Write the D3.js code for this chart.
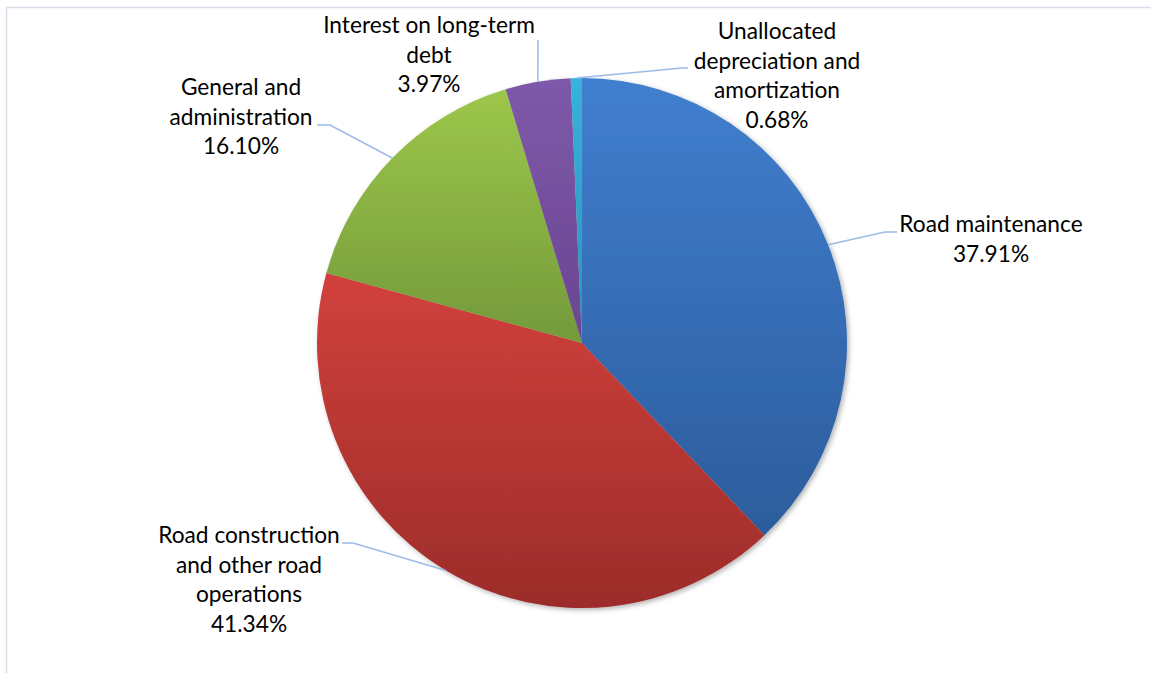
<!DOCTYPE html>
<html>
<head>
<meta charset="utf-8">
<script src="https://d3js.org/d3.v7.min.js"></script>
<style>
    body { margin: 0; background: #fff; }
    .label text {
        font: 22.7px Lato, sans-serif;
        fill: #000;
    }
    .leaders path {
        fill: none;
        stroke: #9dbbe6;
        stroke-width: 1.5px;
    }
</style>
</head>
<body>
<svg class="target" width="1151" height="673"></svg>
<script>

    // data
    let categories = ["Road maintenance", "Road construction and other road operations",
        "General and administration", "Interest on long-term debt",
        "Unallocated depreciation and amortization"];
    let shares = [37.91, 41.34, 16.10, 3.97, 0.68];
    let labelLines = [
        ["Road maintenance"],
        ["Road construction", "and other road", "operations"],
        ["General and", "administration"],
        ["Interest on long-term", "debt"],
        ["Unallocated", "depreciation and", "amortization"]
    ];
    let topColors = ["#417fcf", "#d2413c", "#9dc74b", "#7e59a9", "#37b2dc"];
    let bottomColors = ["#2c5c9c", "#9c2c2a", "#74993a", "#6a4591", "#2a93bb"];

    // layout of labels: text centre, first baseline, leader elbow and end
    let labelLayout = [
        {x: 991, y: 232, elbow: [885, 232], end: [897, 232]},
        {x: 249, y: 543, elbow: [353, 543], end: [342, 543]},
        {x: 241, y: 95, elbow: [330, 125], end: [317, 125]},
        {x: 429, y: 33, elbow: [538, 40], end: [538, 40]},
        {x: 777, y: 39, elbow: [682, 68], end: [688, 68]}
    ];

    let svg = d3.select(".target"),
        width = +svg.attr("width"),
        height = +svg.attr("height");

    let cx = 582, cy = 343, radius = 265, lineH = 29.6;

    // chart frame
    svg.append("path")
        .attr("d", "M6.5," + height + "V7.5H" + width)
        .attr("fill", "none")
        .attr("stroke", "#d9dfea")
        .attr("stroke-width", 1.5);

    let defs = svg.append("defs");

    let shadow = defs.append("filter")
        .attr("id", "shadow")
        .attr("x", "-10%").attr("y", "-10%")
        .attr("width", "120%").attr("height", "120%");
    shadow.append("feDropShadow")
        .attr("dx", 2).attr("dy", 2)
        .attr("stdDeviation", 2.5)
        .attr("flood-color", "#000")
        .attr("flood-opacity", 0.3);

    categories.forEach((c, i) => {
        let grad = defs.append("linearGradient")
            .attr("id", "grad" + i)
            .attr("x1", 0).attr("y1", 0)
            .attr("x2", 0).attr("y2", 1);
        grad.append("stop").attr("offset", "0%").attr("stop-color", topColors[i]);
        grad.append("stop").attr("offset", "100%").attr("stop-color", bottomColors[i]);
    });

    let pie = d3.pie()
        .sort(null)
        .value(d => d);

    let arc = d3.arc()
        .innerRadius(0)
        .outerRadius(radius);

    let arcs = pie(shares);

    let g = svg.append("g")
        .attr("transform", "translate(" + cx + "," + cy + ")");

    g.append("g")
        .attr("filter", "url(#shadow)")
        .selectAll("path")
        .data(arcs)
        .enter().append("path")
        .attr("d", arc)
        .attr("fill", (d, i) => "url(#grad" + i + ")");

    // leader lines
    svg.append("g")
        .attr("class", "leaders")
        .selectAll("path")
        .data(arcs)
        .enter().append("path")
        .attr("d", (d, i) => {
            let a = (d.startAngle + d.endAngle) / 2;
            let sx = cx + radius * Math.sin(a),
                sy = cy - radius * Math.cos(a);
            let L = labelLayout[i];
            return d3.line()([[sx, sy], L.elbow, L.end]);
        });

    // labels
    let label = svg.append("g")
        .attr("class", "label")
        .selectAll("text")
        .data(arcs)
        .enter().append("text")
        .attr("text-anchor", "middle");

    label.each(function(d, i) {
        let t = d3.select(this);
        let L = labelLayout[i];
        let lines = labelLines[i].concat([shares[i].toFixed(2) + "%"]);
        lines.forEach((s, k) => {
            t.append("tspan")
                .attr("x", L.x)
                .attr("y", L.y + k * lineH)
                .text(s);
        });
    });
</script>
</body>
</html>
